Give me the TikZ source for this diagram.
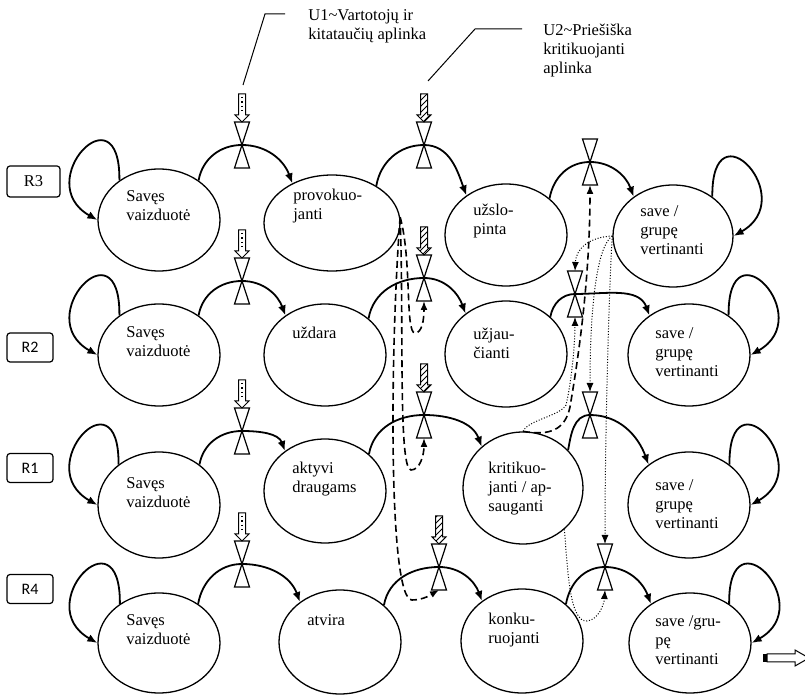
\documentclass[tikz,border=0pt]{standalone}
\usepackage{fontspec}
\setmainfont{Liberation Serif}
\newfontfamily\labelfont{Carlito}
\usetikzlibrary{shapes,arrows.meta,patterns}

\begin{document}
\begin{tikzpicture}[x=0.5pt, y=-0.5pt,
  state/.style={ellipse, draw, line width=0.65pt, minimum width=61pt, minimum height=51pt, inner sep=0pt},
  txt/.style={anchor=west, align=left, inner sep=0pt, font=\fontsize{8.25}{9.5}\selectfont},
  rbox/.style={draw, rounded corners=1.5pt, line width=0.6pt, minimum width=23pt, minimum height=14.5pt, inner sep=0pt, font=\labelfont\fontsize{8}{9}\selectfont},
  flow/.style={line width=0.9pt, -{Latex[length=5pt,width=4pt]}},
  back/.style={line width=0.8pt, dash pattern=on 3.5pt off 2pt, -{Latex[length=4.5pt,width=3.5pt]}},
  dots/.style={line width=0.5pt, dash pattern=on 0.5pt off 0.9pt, -{Latex[length=4.5pt,width=3.5pt]}},
  valve/.pic={\draw[fill=white, line width=0.6pt] (-7.5,-23) -- (7.5,-23) -- (-7.5,23) -- (7.5,23) -- cycle;
    \coordinate (-t) at (0,-23); \coordinate (-c) at (0,0); \coordinate (-b) at (0,23);},
  calm/.pic={\draw[fill=white, line width=0.5pt] (-3.5,-28) -- (3.5,-28) -- (3.5,-7) -- (7,-7) -- (0,0) -- (-7,-7) -- (-3.5,-7) -- cycle;
    \draw[line width=0.6pt, dash pattern=on 0.6pt off 1.6pt] (0,-25) -- (0,-9);},
  hostile/.pic={\draw[pattern=north east lines, line width=0.5pt] (-3.5,-28) -- (3.5,-28) -- (3.5,-7) -- (7,-7) -- (0,0) -- (-7,-7) -- (-3.5,-7) -- cycle;}
]
  \useasboundingbox (0,0) rectangle (805,695);

  \node[txt] (u1) at (308,26) {U1\textasciitilde Vartotojų ir\\kitataučių aplinka};
  \node[txt] (u2) at (543,51) {U2\textasciitilde Priešiška\\kritikuojanti\\aplinka};
  \coordinate (u1a) at (285,14);
  \coordinate (u1b) at (243,85);
  \coordinate (u2a) at (522,29);
  \coordinate (u2b) at (428,81);
  \draw[line width=0.5pt] (u1a) -- (265,14) -- (u1b);
  \draw[line width=0.5pt] (u2a) -- (475,29) -- (u2b);

  \node[rbox, minimum width=26.5pt, minimum height=15.5pt, font=\fontsize{8.25}{9}\selectfont] (lr3) at (33.5,181.5) {R3};
  \node[rbox] (lr2) at (30,347.5) {R2};
  \node[rbox] (lr1) at (30,468) {R1};
  \node[rbox] (lr4) at (30,589) {R4};

  \node[state] (r3a) at (159,220) {};
  \node[state, minimum width=68pt, minimum height=48pt] (r3b) at (332,223) {};
  \node[state] (r3c) at (506,235) {};
  \node[state, minimum width=60pt] (r3d) at (673,236) {};
  \node[state] (r2a) at (159,355) {};
  \node[state] (r2b) at (325,355) {};
  \node[state, minimum height=53pt] (r2c) at (506,354) {};
  \node[state] (r2d) at (689,355) {};
  \node[state, minimum height=53pt] (r1a) at (159,505) {};
  \node[state, minimum height=52pt] (r1b) at (325,491) {};
  \node[state, minimum width=60pt, minimum height=56pt] (r1c) at (523,488) {};
  \node[state, minimum height=53pt] (r1d) at (689,505) {};
  \node[state, minimum height=50pt] (r4a) at (159,643) {};
  \node[state, minimum height=52pt] (r4b) at (340,642) {};
  \node[state, minimum height=52pt] (r4c) at (522,641) {};
  \node[state, minimum height=50pt] (r4d) at (690,643) {};

  \node[txt] (t3a) at (126,206) {Savęs\\vaizduotė};
  \node[txt] (t3b) at (293,206) {provokuo-\\janti};
  \node[txt] (t3c) at (473,221) {užslo-\\pinta};
  \node[txt] (t3d) at (640,230) {save /\\grupę\\vertinanti};
  \node[txt] (t2a) at (126,342) {Savęs\\vaizduotė};
  \node[txt] (t2b) at (292,333) {uždara};
  \node[txt] (t2c) at (473,343) {užjau-\\čianti};
  \node[txt] (t2d) at (655,352) {save /\\grupę\\vertinanti};
  \node[txt] (t1a) at (126,493) {Savęs\\vaizduotė};
  \node[txt] (t1b) at (292,479) {aktyvi\\draugams};
  \node[txt] (t1c) at (488,489) {kritikuo-\\janti / ap-\\sauganti};
  \node[txt] (t1d) at (655,504) {save /\\grupę\\vertinanti};
  \node[txt] (t4a) at (126,630) {Savęs\\vaizduotė};
  \node[txt] (t4b) at (307,620) {atvira};
  \node[txt] (t4c) at (488,630) {konku-\\ruojanti};
  \node[txt] (t4d) at (655,640) {save /gru-\\pę\\vertinanti};

  \draw[flow] (r3a.135) .. controls +(1,-94) and +(-67,-38) .. (r3a.west);
  \draw[flow] (r2a.135) .. controls +(1,-94) and +(-67,-38) .. (r2a.west);
  \draw[flow] (r1a.135) .. controls +(1,-94) and +(-67,-38) .. (r1a.west);
  \draw[flow] (r4a.135) .. controls +(1,-94) and +(-67,-38) .. (r4a.west);
  \draw[flow] (r3d.45) .. controls +(-1,-94) and +(67,-38) .. (r3d.east);
  \draw[flow] (r2d.45) .. controls +(-1,-94) and +(67,-38) .. (r2d.east);
  \draw[flow] (r1d.45) .. controls +(-1,-94) and +(67,-38) .. (r1d.east);
  \draw[flow] (r4d.45) .. controls +(-1,-94) and +(67,-38) .. (r4d.east);

  \coordinate (r3ab) at (242,145);
  \coordinate (r2ab) at (242,281);
  \coordinate (r1ab) at (242,431);
  \coordinate (r4ab) at (242,564);
  \coordinate (r3bc) at (424,145);
  \coordinate (r2bc) at (424,278);
  \coordinate (r1bc) at (424,415);
  \coordinate (r4bc) at (439,567);
  \coordinate (r3cd) at (590,162);
  \coordinate (r2cd) at (575,294);
  \coordinate (r1cd) at (590,415);
  \coordinate (r4cd) at (605,567);

  \draw[flow] (r3a.45) to[out=80,in=180] (r3ab) to[out=0,in=110] (r3b.135);
  \draw[flow] (r2a.45) to[out=80,in=180] (r2ab) to[out=0,in=110] (r2b.135);
  \draw[flow] (r1a.45) to[out=80,in=180] (r1ab) to[out=0,in=110] (r1b.135);
  \draw[flow] (r4a.45) to[out=80,in=180] (r4ab) to[out=0,in=110] (r4b.135);
  \draw[flow] (r3b.40) to[out=80,in=180] (r3bc) to[out=0,in=110] (r3c.135);
  \draw[flow] (r2b.40) to[out=80,in=180] (r2bc) to[out=0,in=110] (r2c.135);
  \draw[flow] (r1b.40) to[out=80,in=180] (r1bc) to[out=0,in=110] (r1c.135);
  \draw[flow] (r4b.40) to[out=80,in=180] (r4bc) to[out=0,in=110] (r4c.135);
  \draw[flow] (r3c.40) to[out=80,in=180] (r3cd) to[out=0,in=110] (r3d.135);
  \draw[flow] (r2c.40) to[out=80,in=180] (r2cd) to[out=0,in=110] (r2d.135);
  \draw[flow] (r1c.40) to[out=80,in=180] (r1cd) to[out=0,in=110] (r1d.135);
  \draw[flow] (r4c.40) to[out=80,in=180] (r4cd) to[out=0,in=110] (r4d.135);

  \pic (v3ab) at (r3ab) {valve};
  \pic (v2ab) at (r2ab) {valve};
  \pic (v1ab) at (r1ab) {valve};
  \pic (v4ab) at (r4ab) {valve};
  \pic (v3bc) at (r3bc) {valve};
  \pic (v2bc) at (r2bc) {valve};
  \pic (v1bc) at (r1bc) {valve};
  \pic (v4bc) at (r4bc) {valve};
  \pic (v3cd) at (r3cd) {valve};
  \pic (v2cd) at (r2cd) {valve};
  \pic (v1cd) at (r1cd) {valve};
  \pic (v4cd) at (r4cd) {valve};

  \pic at (v3ab-t) {calm};
  \pic at (v2ab-t) {calm};
  \pic at (v1ab-t) {calm};
  \pic at (v4ab-t) {calm};
  \pic at (v3bc-t) {hostile};
  \pic at (v2bc-t) {hostile};
  \pic at (v1bc-t) {hostile};
  \pic at (v4bc-t) {hostile};

  \draw[back] (r3b.5) .. controls (412,260) and (405,333) .. (415,333) .. controls (422,333) and (424,320) .. (v2bc-b);
  \draw[back] (r3b.5) .. controls (404,320) and (398,470) .. (411,470) .. controls (420,470) and (424,455) .. (v1bc-b);
  \draw[back] (r3b.5) .. controls (390,350) and (388,600) .. (412,600) .. controls (424,600) and (432,594) .. (v4bc-b);
  \draw[back] (r1c.north) .. controls (550,436) and (565,430) .. (570,407) .. controls (578,360) and (590,280) .. (v3cd-b);
  \draw[dots] (r1c.north) .. controls (528,420) and (560,416) .. (566,405) .. controls (571,385) and (575,345) .. (v2cd-b);
  \draw[dots] (r3d.west) .. controls (590,237) and (576,248) .. (v2cd-t);
  \draw[dots] (r3d.west) .. controls (598,245) and (590,300) .. (v1cd-t);
  \draw[dots] (r3d.west) .. controls (610,265) and (605,420) .. (v4cd-t);
  \draw[dots] (r1c.-45) .. controls (568,575) and (570,622) .. (587,621) .. controls (598,620) and (604,605) .. (v4cd-b);

  \fill (763,654) rectangle (767,662);
  \draw[fill=white, line width=0.5pt] (767,654) -- (795,654) -- (795,650) -- (809,658) -- (795,666) -- (795,662) -- (767,662) -- cycle;
\end{tikzpicture}
\end{document}
